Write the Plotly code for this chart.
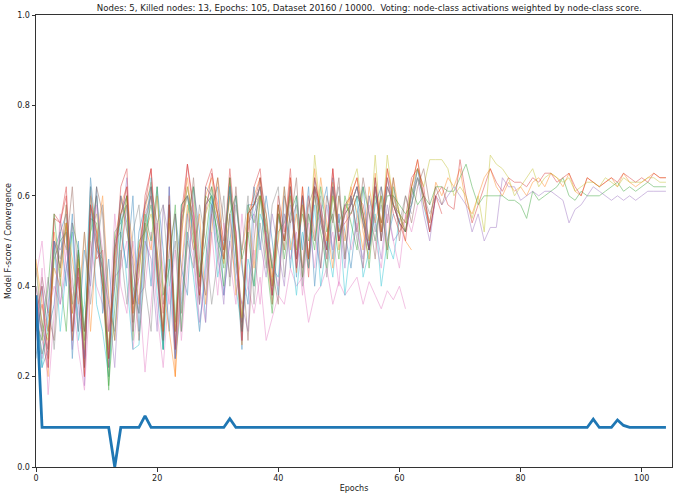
import plotly.graph_objects as go

# ---------------- data ----------------
title_text = ("Nodes: 5, Killed nodes: 13, Epochs: 105, Dataset 20160 / 10000.  "
              "Voting: node-class activations weighted by node-class score.")
x_ticks = [0, 20, 40, 60, 80, 100]
y_ticks = [0.0, 0.2, 0.4, 0.6, 0.8, 1.0]

convergence = [
    0.38, 0.0875, 0.0875, 0.0875, 0.0875, 0.0875, 0.0875, 0.0875, 0.0875, 0.0875,
    0.0875, 0.089, 0.0875, 0.0, 0.0875, 0.0875, 0.0875, 0.0875, 0.113, 0.0875,
    0.0875, 0.0875, 0.0875, 0.0875, 0.0875, 0.0875, 0.0875, 0.0875, 0.0875, 0.0875,
    0.0875, 0.0875, 0.107, 0.0875, 0.0875, 0.0875, 0.0875, 0.0875, 0.089, 0.0875,
    0.0875, 0.0875, 0.0875, 0.0875, 0.0875, 0.0875, 0.0875, 0.0875, 0.0875, 0.0875,
    0.0875, 0.0875, 0.0875, 0.0875, 0.0875, 0.0875, 0.0875, 0.0875, 0.0875, 0.0875,
    0.0875, 0.0875, 0.0875, 0.0875, 0.0875, 0.0875, 0.0875, 0.0875, 0.0875, 0.0875,
    0.0875, 0.0875, 0.0875, 0.0875, 0.0875, 0.0875, 0.0875, 0.0875, 0.0875, 0.0875,
    0.0875, 0.0875, 0.0875, 0.0875, 0.0875, 0.0875, 0.0875, 0.0875, 0.0875, 0.0875,
    0.0875, 0.0875, 0.106, 0.0875, 0.0875, 0.0875, 0.104, 0.092, 0.0875, 0.0875,
    0.0875, 0.0875, 0.0875, 0.0875, 0.0875,
]

# killed nodes
node_blue1 = [
    0.36, 0.22, 0.26, 0.48, 0.52, 0.56, 0.24, 0.50, 0.22, 0.64,
    0.50, 0.40, 0.26, 0.46, 0.60, 0.54, 0.36, 0.52, 0.58, 0.62,
    0.44, 0.26, 0.62, 0.24, 0.58, 0.60, 0.52, 0.36, 0.62, 0.60,
    0.50, 0.46, 0.64, 0.48, 0.26, 0.58, 0.58, 0.62, 0.52, 0.36,
    0.56, 0.48, 0.62, 0.42, 0.60, 0.44, 0.64, 0.56, 0.46, 0.64,
    0.50, 0.58, 0.58, 0.62, 0.56, 0.48, 0.64, 0.50, 0.64, 0.58,
    0.54, 0.52, 0.58, 0.66, 0.58, 0.52, 0.60,
]
node_blue2 = [
    0.24, 0.40, 0.30, 0.36, 0.52, 0.40, 0.56, 0.30, 0.48, 0.40,
    0.62, 0.34, 0.46, 0.28, 0.52, 0.44, 0.60, 0.30, 0.54, 0.40,
    0.62, 0.48, 0.30, 0.56, 0.44, 0.38, 0.62, 0.52, 0.32, 0.58,
    0.62, 0.38, 0.50, 0.60, 0.44, 0.36, 0.62, 0.48, 0.60, 0.50,
    0.38, 0.62, 0.44, 0.60, 0.48, 0.62, 0.40, 0.56, 0.62, 0.46,
    0.60, 0.52, 0.44, 0.56, 0.62, 0.48, 0.58, 0.62, 0.50, 0.56,
]
node_orange2 = [
    0.46, 0.36, 0.30, 0.44, 0.40, 0.54, 0.46, 0.36, 0.52, 0.30,
    0.50, 0.60, 0.38, 0.28, 0.46, 0.60, 0.48, 0.36, 0.54, 0.48,
    0.60, 0.40, 0.30, 0.20, 0.44, 0.58, 0.48, 0.56, 0.36, 0.52,
    0.64, 0.46, 0.56, 0.38, 0.48, 0.56, 0.44, 0.60, 0.56, 0.42,
    0.50, 0.62, 0.48, 0.56, 0.44, 0.60, 0.50, 0.64, 0.54, 0.44,
    0.60, 0.50, 0.62, 0.56, 0.48, 0.62, 0.54, 0.60, 0.48, 0.64,
    0.56, 0.50, 0.48,
]
node_green2 = [
    0.32, 0.28, 0.40, 0.56, 0.42, 0.30, 0.54, 0.48, 0.30, 0.52,
    0.60, 0.44, 0.18, 0.34, 0.52, 0.60, 0.40, 0.34, 0.56, 0.50,
    0.62, 0.38, 0.44, 0.58, 0.30, 0.56, 0.62, 0.42, 0.50, 0.62,
    0.50, 0.40, 0.56, 0.60, 0.46, 0.52, 0.40, 0.60, 0.54, 0.44,
    0.58, 0.46, 0.56, 0.60, 0.42, 0.56, 0.48, 0.62, 0.52, 0.56,
    0.46, 0.60, 0.54, 0.48, 0.62, 0.56, 0.50, 0.60, 0.46, 0.62,
    0.56, 0.52, 0.62, 0.58, 0.60,
]
node_red2 = [
    0.34, 0.40, 0.22, 0.55, 0.54, 0.60, 0.30, 0.44, 0.20, 0.58,
    0.52, 0.40, 0.24, 0.48, 0.56, 0.62, 0.34, 0.48, 0.58, 0.66,
    0.42, 0.30, 0.58, 0.26, 0.56, 0.67, 0.56, 0.38, 0.62, 0.66,
    0.56, 0.48, 0.66, 0.52, 0.28, 0.56, 0.58, 0.64, 0.50, 0.38,
    0.58, 0.50, 0.64, 0.44, 0.62, 0.46, 0.64, 0.56, 0.48, 0.66,
    0.50, 0.58, 0.60, 0.64, 0.56, 0.48, 0.64, 0.52, 0.66, 0.58,
    0.54, 0.50, 0.62, 0.68, 0.60, 0.52, 0.60, 0.56,
]
node_purple2 = [
    0.38, 0.24, 0.36, 0.50, 0.36, 0.44, 0.54, 0.36, 0.24, 0.46,
    0.60, 0.44, 0.36, 0.22, 0.46, 0.58, 0.44, 0.34, 0.50, 0.46,
    0.30, 0.58, 0.50, 0.24, 0.42, 0.56, 0.48, 0.32, 0.42, 0.58,
    0.48, 0.36, 0.56, 0.44, 0.36, 0.30, 0.56, 0.50, 0.42, 0.56,
    0.48, 0.40, 0.58, 0.50, 0.44, 0.60, 0.52, 0.44, 0.58, 0.48,
    0.56, 0.44, 0.60, 0.52, 0.46, 0.60, 0.54, 0.46, 0.58, 0.50,
    0.52,
]
node_brown1 = [
    0.40, 0.32, 0.24, 0.50, 0.44, 0.54, 0.28, 0.46, 0.22, 0.58,
    0.50, 0.44, 0.22, 0.48, 0.56, 0.60, 0.32, 0.46, 0.54, 0.60,
    0.46, 0.28, 0.58, 0.26, 0.54, 0.62, 0.54, 0.38, 0.58, 0.62,
    0.56, 0.46, 0.62, 0.50, 0.30, 0.56, 0.58, 0.62, 0.50, 0.38,
    0.56, 0.50, 0.62, 0.46, 0.60, 0.46, 0.62, 0.56, 0.48, 0.62,
    0.50, 0.56, 0.58, 0.62, 0.54, 0.48, 0.62, 0.50, 0.62, 0.58,
    0.54, 0.52, 0.60, 0.66, 0.60, 0.54, 0.62, 0.58, 0.62,
]
node_brown2 = [
    0.30, 0.42, 0.34, 0.28, 0.54, 0.48, 0.62, 0.40, 0.30, 0.44,
    0.62, 0.56, 0.30, 0.40, 0.60, 0.52, 0.46, 0.28, 0.44, 0.62,
    0.54, 0.36, 0.48, 0.56, 0.34, 0.50, 0.64, 0.46, 0.38, 0.56,
    0.64, 0.54, 0.42, 0.62, 0.46, 0.28, 0.50, 0.64, 0.56, 0.44,
    0.36, 0.60, 0.54, 0.64, 0.42, 0.58, 0.62, 0.44, 0.60, 0.54,
    0.64, 0.46, 0.60, 0.52, 0.64, 0.56, 0.46, 0.62, 0.54, 0.64,
    0.50, 0.60, 0.54, 0.62, 0.66, 0.58,
]
node_pink1 = [
    0.42, 0.50, 0.34, 0.40, 0.36, 0.48, 0.40, 0.34, 0.30, 0.50,
    0.40, 0.36, 0.30, 0.42, 0.44, 0.50, 0.26, 0.38, 0.40, 0.52,
    0.34, 0.22, 0.40, 0.24, 0.38, 0.52, 0.46, 0.30, 0.44, 0.56,
    0.46, 0.38, 0.50, 0.42, 0.36, 0.40, 0.34, 0.42, 0.28, 0.33,
    0.38, 0.36, 0.44, 0.40, 0.42, 0.32, 0.38, 0.40, 0.44, 0.36,
    0.41, 0.38, 0.40, 0.42, 0.36, 0.41, 0.38, 0.35, 0.39, 0.37,
    0.40, 0.35,
]
node_pink2 = [
    0.28, 0.44, 0.16, 0.34, 0.56, 0.44, 0.38, 0.26, 0.17, 0.40,
    0.58, 0.48, 0.30, 0.56, 0.40, 0.34, 0.50, 0.40, 0.21, 0.36,
    0.54, 0.44, 0.36, 0.48, 0.28, 0.44, 0.56, 0.40, 0.32, 0.52,
    0.38, 0.54, 0.46, 0.36, 0.56, 0.40, 0.48, 0.36, 0.52, 0.46,
    0.40, 0.56, 0.46, 0.52, 0.38, 0.54, 0.44, 0.58, 0.46, 0.52,
    0.40, 0.58, 0.48, 0.54, 0.44, 0.58, 0.50, 0.44, 0.56, 0.50,
    0.44, 0.56, 0.52, 0.58,
]
node_gray1 = [
    0.36, 0.30, 0.26, 0.50, 0.46, 0.54, 0.30, 0.48, 0.24, 0.58,
    0.48, 0.46, 0.24, 0.50, 0.56, 0.60, 0.36, 0.46, 0.54, 0.62,
    0.44, 0.30, 0.58, 0.30, 0.54, 0.60, 0.54, 0.40, 0.58, 0.60,
    0.54, 0.48, 0.62, 0.48, 0.32, 0.54, 0.58, 0.62, 0.50, 0.40,
    0.56, 0.50, 0.62, 0.46, 0.60, 0.46, 0.62, 0.54, 0.48, 0.62,
    0.52, 0.56, 0.58, 0.62, 0.54, 0.48, 0.62, 0.52, 0.62, 0.58,
    0.56, 0.54, 0.60, 0.64, 0.60, 0.56, 0.60,
]
node_gray2 = [
    0.44, 0.30, 0.42, 0.26, 0.44, 0.58, 0.42, 0.30, 0.52, 0.36,
    0.48, 0.58, 0.36, 0.30, 0.48, 0.36, 0.52, 0.58, 0.40, 0.30,
    0.54, 0.58, 0.40, 0.50, 0.30, 0.50, 0.44, 0.58, 0.50, 0.36,
    0.46, 0.60, 0.40, 0.58, 0.48, 0.60, 0.36, 0.54, 0.44, 0.58,
    0.62, 0.42, 0.54, 0.58, 0.40, 0.56, 0.50, 0.60, 0.42, 0.56,
    0.62, 0.46, 0.60, 0.50, 0.44, 0.60, 0.52, 0.58, 0.48, 0.60,
    0.54, 0.60, 0.56,
]
node_cyan = [
    0.36, 0.22, 0.34, 0.50, 0.30, 0.44, 0.52, 0.28, 0.36, 0.62,
    0.36, 0.30, 0.20, 0.40, 0.56, 0.40, 0.26, 0.27, 0.48, 0.64,
    0.38, 0.26, 0.46, 0.24, 0.36, 0.52, 0.42, 0.30, 0.46, 0.60,
    0.42, 0.50, 0.62, 0.40, 0.30, 0.46, 0.40, 0.56, 0.52, 0.44,
    0.42, 0.56, 0.50, 0.38, 0.52, 0.44, 0.58, 0.40, 0.50, 0.42,
    0.56, 0.38, 0.50, 0.60, 0.42, 0.48, 0.56, 0.40, 0.50, 0.46,
    0.55,
]

# surviving nodes
node_orange = [
    0.38, 0.30, 0.20, 0.52, 0.44, 0.58, 0.28, 0.47, 0.20, 0.60,
    0.52, 0.40, 0.20, 0.50, 0.58, 0.62, 0.30, 0.48, 0.57, 0.63,
    0.42, 0.28, 0.60, 0.20, 0.55, 0.64, 0.52, 0.36, 0.60, 0.64,
    0.55, 0.45, 0.64, 0.48, 0.27, 0.56, 0.60, 0.64, 0.48, 0.36,
    0.58, 0.48, 0.64, 0.43, 0.62, 0.44, 0.66, 0.55, 0.46, 0.63,
    0.48, 0.57, 0.60, 0.64, 0.52, 0.46, 0.65, 0.50, 0.66, 0.60,
    0.56, 0.52, 0.62, 0.68, 0.58, 0.54, 0.63, 0.60, 0.64, 0.62,
    0.66, 0.58, 0.56, 0.60, 0.64, 0.66, 0.62, 0.60, 0.63, 0.61,
    0.62, 0.60, 0.63, 0.64, 0.62, 0.65, 0.64, 0.62, 0.65, 0.61,
    0.60, 0.64, 0.63, 0.62, 0.63, 0.64, 0.62, 0.65, 0.63, 0.62,
    0.63, 0.64, 0.65, 0.64, 0.64,
]
node_red = [
    0.30, 0.36, 0.26, 0.56, 0.54, 0.62, 0.34, 0.42, 0.24, 0.62,
    0.46, 0.48, 0.24, 0.44, 0.62, 0.66, 0.36, 0.42, 0.60, 0.66,
    0.48, 0.34, 0.54, 0.30, 0.50, 0.67, 0.58, 0.40, 0.56, 0.65,
    0.58, 0.50, 0.60, 0.52, 0.32, 0.52, 0.62, 0.66, 0.52, 0.40,
    0.60, 0.52, 0.66, 0.46, 0.58, 0.42, 0.62, 0.58, 0.50, 0.66,
    0.52, 0.54, 0.56, 0.60, 0.58, 0.50, 0.62, 0.54, 0.64, 0.56,
    0.52, 0.55, 0.64, 0.66, 0.62, 0.52, 0.60, 0.62, 0.58, 0.57,
    0.68, 0.60, 0.54, 0.58, 0.62, 0.66, 0.63, 0.61, 0.64, 0.63,
    0.63, 0.62, 0.64, 0.63, 0.65, 0.65, 0.63, 0.64, 0.65, 0.62,
    0.60, 0.64, 0.63, 0.62, 0.63, 0.64, 0.63, 0.65, 0.64, 0.63,
    0.64, 0.63, 0.65, 0.64, 0.64,
]
node_green = [
    0.35, 0.25, 0.30, 0.46, 0.50, 0.52, 0.36, 0.48, 0.28, 0.55,
    0.54, 0.42, 0.17, 0.52, 0.54, 0.58, 0.28, 0.50, 0.52, 0.58,
    0.46, 0.26, 0.58, 0.32, 0.58, 0.60, 0.50, 0.42, 0.60, 0.58,
    0.52, 0.44, 0.64, 0.46, 0.30, 0.58, 0.54, 0.60, 0.46, 0.34,
    0.52, 0.54, 0.60, 0.48, 0.56, 0.50, 0.60, 0.52, 0.44, 0.60,
    0.54, 0.58, 0.56, 0.60, 0.56, 0.44, 0.60, 0.54, 0.60, 0.60,
    0.58, 0.56, 0.58, 0.64, 0.60, 0.58, 0.62, 0.62, 0.61, 0.61,
    0.64, 0.67, 0.62, 0.58, 0.60, 0.60, 0.60, 0.60, 0.59, 0.59,
    0.58, 0.55, 0.61, 0.59, 0.60, 0.61, 0.62, 0.64, 0.60, 0.59,
    0.61, 0.60, 0.60, 0.60, 0.61, 0.62, 0.63, 0.61, 0.62, 0.61,
    0.62, 0.63, 0.62, 0.62, 0.62,
]
node_purple = [
    0.40, 0.28, 0.22, 0.50, 0.48, 0.52, 0.26, 0.44, 0.18, 0.56,
    0.48, 0.44, 0.22, 0.50, 0.52, 0.64, 0.30, 0.46, 0.56, 0.60,
    0.44, 0.28, 0.62, 0.26, 0.56, 0.60, 0.56, 0.36, 0.58, 0.60,
    0.54, 0.46, 0.62, 0.52, 0.28, 0.54, 0.56, 0.60, 0.50, 0.38,
    0.56, 0.50, 0.60, 0.44, 0.60, 0.46, 0.62, 0.54, 0.48, 0.62,
    0.50, 0.56, 0.58, 0.62, 0.54, 0.48, 0.62, 0.50, 0.62, 0.58,
    0.54, 0.52, 0.58, 0.64, 0.56, 0.50, 0.60, 0.58, 0.60, 0.62,
    0.60, 0.58, 0.52, 0.56, 0.50, 0.53, 0.53, 0.64, 0.62, 0.62,
    0.59, 0.60, 0.61, 0.60, 0.61, 0.61, 0.60, 0.59, 0.54, 0.57,
    0.58, 0.60, 0.62, 0.61, 0.60, 0.59, 0.60, 0.59, 0.60, 0.59,
    0.60, 0.61, 0.61, 0.61, 0.61,
]
node_olive = [
    0.45, 0.32, 0.28, 0.48, 0.42, 0.54, 0.34, 0.46, 0.26, 0.52,
    0.56, 0.46, 0.26, 0.46, 0.56, 0.58, 0.34, 0.44, 0.52, 0.56,
    0.48, 0.30, 0.55, 0.30, 0.52, 0.62, 0.54, 0.40, 0.56, 0.60,
    0.56, 0.48, 0.60, 0.50, 0.33, 0.56, 0.58, 0.60, 0.52, 0.40,
    0.56, 0.50, 0.60, 0.48, 0.58, 0.46, 0.69, 0.56, 0.50, 0.60,
    0.52, 0.56, 0.62, 0.66, 0.56, 0.50, 0.69, 0.52, 0.69, 0.58,
    0.56, 0.54, 0.62, 0.66, 0.62, 0.68, 0.68, 0.68, 0.66, 0.60,
    0.62, 0.60, 0.55, 0.60, 0.52, 0.69, 0.67, 0.66, 0.64, 0.60,
    0.62, 0.64, 0.66, 0.62, 0.64, 0.65, 0.64, 0.63, 0.64, 0.61,
    0.62, 0.63, 0.63, 0.62, 0.64, 0.63, 0.62, 0.64, 0.63, 0.63,
    0.63, 0.64, 0.64, 0.63, 0.63,
]

# ---------------- styling ----------------
node_series = [
    (node_blue1, "#1f77b4"), (node_orange, "#ff7f0e"), (node_green, "#2ca02c"),
    (node_red, "#d62728"), (node_purple, "#9467bd"), (node_brown1, "#8c564b"),
    (node_pink1, "#e377c2"), (node_gray1, "#7f7f7f"), (node_olive, "#bcbd22"),
    (node_cyan, "#17becf"), (node_blue2, "#1f77b4"), (node_orange2, "#ff7f0e"),
    (node_green2, "#2ca02c"), (node_red2, "#d62728"), (node_purple2, "#9467bd"),
    (node_brown2, "#8c564b"), (node_pink2, "#e377c2"), (node_gray2, "#7f7f7f"),
]

fig = go.Figure()
for vals, col in node_series:
    fig.add_trace(go.Scatter(
        x=list(range(len(vals))), y=vals, mode="lines",
        line=dict(color=col, width=0.8), opacity=0.55,
        showlegend=False, hoverinfo="skip",
    ))
fig.add_trace(go.Scatter(
    x=list(range(len(convergence))), y=convergence, mode="lines",
    line=dict(color="#1f77b4", width=2.8), showlegend=False,
))

font_family = "DejaVu Sans"
fig.update_layout(
    width=680, height=498,
    margin=dict(l=36, r=8, t=15, b=31),
    paper_bgcolor="white", plot_bgcolor="white",
    font=dict(family=font_family, size=8, color="#222222"),
    title=dict(text=title_text, x=0.524, xref="paper", xanchor="center",
               y=1 - 8 / 498, yref="container", yanchor="middle",
               font=dict(size=8.6, color="#222222")),
    xaxis=dict(
        range=[0, 105], tickvals=x_ticks, ticktext=[str(v) for v in x_ticks],
        showgrid=False, zeroline=False, showline=True, linecolor="#333333",
        linewidth=1, mirror=True, ticks="outside", ticklen=3.5, tickwidth=0.8,
        tickcolor="#333333", automargin=False,
        title=dict(text="Epochs", standoff=3, font=dict(size=8)),
    ),
    yaxis=dict(
        range=[0, 1], tickvals=y_ticks, ticktext=[f"{v:.1f}" for v in y_ticks],
        showgrid=False, zeroline=False, showline=True, linecolor="#333333",
        linewidth=1, mirror=True, ticks="outside", ticklen=3.5, tickwidth=0.8,
        tickcolor="#333333", automargin=False,
        title=dict(text="Model F-score / Convergence", standoff=4, font=dict(size=8)),
    ),
)

fig.write_html(
    "out.html",
    config={"displayModeBar": False},
    post_script="document.body.style.margin='0px';document.body.style.padding='0px';",
)
